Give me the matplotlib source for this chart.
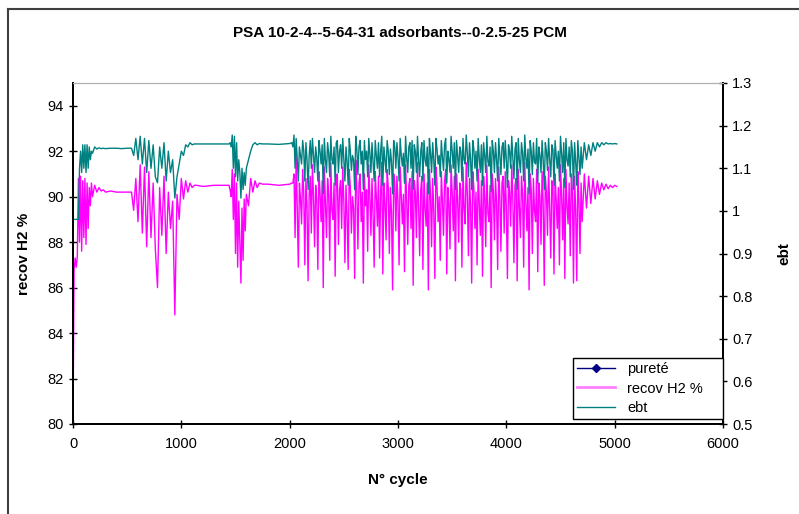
import matplotlib
matplotlib.use('Agg')
import matplotlib.pyplot as plt
from matplotlib.ticker import FuncFormatter
from matplotlib.lines import Line2D

plt.rcParams['font.family'] = ['Liberation Sans', 'DejaVu Sans']

# start-up and the two early disturbances (cycle, recov H2 %, ebt)
cycles_start = [0, 10, 20, 30, 40, 50, 60, 70, 80, 90, 100, 110, 120, 130, 140, 150, 160, 170, 180,
                200, 220, 240, 260, 280, 300, 350, 400, 450, 500, 530,
                540, 560, 580, 600, 620, 640, 660, 680, 700, 720, 740, 760, 780, 800, 820, 840,
                860, 880, 900, 920, 940, 960, 980, 1000, 1020, 1040, 1060, 1080, 1100, 1120,
                1140, 1200, 1300, 1400,
                1440, 1450, 1460, 1470, 1480, 1490, 1500, 1510, 1520, 1530, 1540, 1550, 1560,
                1570, 1580, 1590, 1600, 1620, 1640, 1660, 1680, 1700, 1720, 1750,
                1800, 1900, 2000, 2020]
recov_start = [80.0, 86.8, 87.3, 86.9, 87.4, 90.8, 88.0, 90.9, 87.6, 90.7, 88.2, 90.8, 87.9, 90.6, 88.6, 90.4, 89.6, 90.6, 90.0,
               90.5, 90.2, 90.4, 90.25, 90.3, 90.2, 90.25, 90.2, 90.2, 90.2, 90.2,
               90.2, 89.4, 90.8, 88.9, 91.4, 88.4, 91.3, 87.8, 91.1, 88.2, 90.6, 87.7, 86.0, 90.4, 88.3, 90.9,
               87.5, 90.2, 88.6, 89.8, 84.8, 90.1, 89.0, 90.8, 89.9, 90.7, 90.2, 90.6, 90.4, 90.5,
               90.5, 90.45, 90.5, 90.5,
               90.5, 90.3, 90.0, 91.2, 89.0, 91.0, 87.5, 90.6, 86.9, 89.8, 88.0, 86.2, 89.5,
               87.2, 89.9, 88.5, 90.1, 89.6, 90.8, 90.2, 90.7, 90.4, 90.6, 90.55,
               90.55, 90.5, 90.55, 90.6]
ebt_start = [0.98, 0.98, 0.98, 0.98, 0.98, 0.98, 1.10, 1.14, 1.09, 1.155, 1.10, 1.155, 1.09, 1.155, 1.10, 1.15, 1.12, 1.14, 1.135,
             1.15, 1.145, 1.148, 1.146, 1.147, 1.146, 1.147, 1.147, 1.146, 1.147, 1.147,
             1.147, 1.13, 1.17, 1.12, 1.175, 1.11, 1.17, 1.09, 1.165, 1.10, 1.155, 1.08, 1.066, 1.15, 1.10, 1.16,
             1.07, 1.14, 1.09, 1.12, 1.03, 1.08, 1.11, 1.14, 1.13, 1.155, 1.15, 1.16, 1.155, 1.157,
             1.157, 1.157, 1.157, 1.157,
             1.157, 1.16, 1.15, 1.178, 1.10, 1.175, 1.08, 1.16, 1.07, 1.12, 1.09, 1.03, 1.10,
             1.05, 1.09, 1.06, 1.10, 1.12, 1.14, 1.155, 1.16, 1.155, 1.158, 1.157,
             1.157, 1.156, 1.158, 1.16]

# unstable stretch, one value every 10 cycles from 2030 to 4700
cycles_mid = list(range(2030, 4701, 10))
recov_mid = [90.6, 91.0, 88.2, 91.8, 89.5, 86.9, 90.6, 89.9, 88.8, 91.2,
             90.2, 87.0, 90.8, 89.6, 86.3, 90.1, 90.9, 88.4, 91.4, 90.0,
             87.8, 90.5, 89.9, 86.8, 91.1, 90.2, 88.9, 90.7, 86.0, 91.3,
             89.7, 88.2, 90.8, 90.1, 87.2, 91.5, 89.4, 89.0, 90.6, 86.5,
             90.9, 91.0, 87.9, 90.3, 90.7, 88.6, 91.3, 89.8, 87.1, 90.5,
             89.2, 86.8, 91.2, 90.4, 88.4, 90.0, 89.5, 86.4, 91.6, 90.3,
             87.7, 90.6, 91.0, 88.9, 90.2, 86.2, 91.0, 89.6, 90.3, 87.6,
             91.4, 90.1, 88.3, 90.8, 89.2, 86.9, 91.1, 90.0, 88.7, 90.9,
             87.3, 90.2, 91.5, 86.6, 90.6, 89.7, 88.1, 91.2, 90.4, 87.5,
             90.4, 89.3, 85.9, 91.0, 90.6, 88.5, 90.9, 89.8, 87.0, 91.3,
             90.0, 88.8, 90.1, 86.7, 91.4, 89.9, 87.9, 90.5, 90.8, 88.6,
             91.1, 86.1, 90.7, 90.2, 88.2, 91.5, 89.6, 87.4, 90.3, 90.9,
             86.8, 91.0, 89.5, 88.7, 90.6, 85.9, 91.2, 90.1, 87.8, 90.8,
             89.4, 86.4, 91.3, 90.5, 88.9, 90.0, 87.2, 91.1, 89.8, 88.3,
             90.7, 91.2, 86.6, 90.4, 89.7, 87.7, 91.4, 90.2, 88.5, 90.9,
             86.3, 91.0, 89.9, 88.0, 90.6, 90.3, 86.9, 91.3, 89.5, 88.8,
             91.5, 90.1, 87.4, 90.8, 89.6, 86.2, 91.1, 90.4, 88.6, 90.2,
             87.0, 91.2, 89.8, 88.3, 90.7, 86.5, 90.9, 90.0, 87.8, 91.4,
             89.3, 88.9, 90.5, 86.0, 91.0, 90.3, 88.1, 90.8, 89.7, 86.8,
             91.3, 90.0, 87.6, 90.6, 90.9, 88.4, 91.1, 89.5, 86.4, 90.7,
             90.2, 88.7, 91.4, 89.9, 87.1, 90.5, 90.8, 86.3, 91.2, 89.6,
             88.2, 90.9, 90.1, 86.9, 91.5, 89.8, 88.5, 90.4, 85.9, 91.0,
             90.3, 87.5, 90.8, 89.4, 88.9, 91.2, 86.7, 90.6, 90.0, 87.9,
             91.1, 89.7, 86.1, 90.9, 90.2, 88.3, 91.3, 89.5, 87.3, 90.7,
             90.5, 86.6, 91.0, 89.9, 88.6, 90.4, 87.0, 91.4, 90.1, 88.1,
             90.8, 86.4, 91.2, 89.6, 88.8, 90.6, 87.4, 91.0, 90.2, 86.2,
             90.9, 89.4, 86.3, 91.1, 89.8, 87.5, 90.6, 88.9]
ebt_mid = [1.15, 1.178, 1.10, 1.17, 1.12, 1.07, 1.15, 1.13, 1.11, 1.165,
           1.14, 1.07, 1.16, 1.12, 1.05, 1.13, 1.165, 1.10, 1.17, 1.13,
           1.09, 1.15, 1.125, 1.07, 1.165, 1.14, 1.11, 1.155, 1.04, 1.17,
           1.12, 1.09, 1.16, 1.135, 1.08, 1.175, 1.12, 1.11, 1.15, 1.06,
           1.16, 1.165, 1.09, 1.14, 1.155, 1.10, 1.17, 1.12, 1.07, 1.15,
           1.115, 1.06, 1.17, 1.14, 1.095, 1.13, 1.12, 1.05, 1.175, 1.145,
           1.085, 1.15, 1.165, 1.11, 1.14, 1.05, 1.165, 1.12, 1.14, 1.08,
           1.17, 1.135, 1.09, 1.16, 1.115, 1.07, 1.165, 1.13, 1.10, 1.16,
           1.08, 1.14, 1.175, 1.06, 1.15, 1.12, 1.09, 1.165, 1.14, 1.085,
           1.145, 1.115, 1.04, 1.165, 1.15, 1.10, 1.16, 1.125, 1.07, 1.17,
           1.13, 1.105, 1.135, 1.065, 1.175, 1.125, 1.09, 1.15, 1.16, 1.10,
           1.165, 1.05, 1.155, 1.14, 1.09, 1.175, 1.12, 1.08, 1.14, 1.16,
           1.07, 1.165, 1.12, 1.105, 1.15, 1.04, 1.17, 1.135, 1.09, 1.16,
           1.12, 1.06, 1.17, 1.145, 1.11, 1.13, 1.08, 1.165, 1.125, 1.095,
           1.155, 1.17, 1.065, 1.14, 1.12, 1.09, 1.175, 1.14, 1.10, 1.16,
           1.05, 1.165, 1.13, 1.09, 1.15, 1.14, 1.07, 1.17, 1.12, 1.11,
           1.178, 1.135, 1.08, 1.16, 1.12, 1.05, 1.165, 1.145, 1.10, 1.14,
           1.07, 1.17, 1.125, 1.09, 1.155, 1.06, 1.16, 1.13, 1.09, 1.175,
           1.115, 1.105, 1.15, 1.045, 1.165, 1.14, 1.09, 1.16, 1.12, 1.07,
           1.17, 1.13, 1.085, 1.15, 1.16, 1.10, 1.165, 1.12, 1.055, 1.155,
           1.14, 1.10, 1.175, 1.125, 1.075, 1.145, 1.16, 1.05, 1.17, 1.12,
           1.09, 1.16, 1.135, 1.07, 1.178, 1.125, 1.10, 1.145, 1.04, 1.165,
           1.14, 1.085, 1.16, 1.115, 1.11, 1.17, 1.065, 1.15, 1.13, 1.09,
           1.165, 1.12, 1.05, 1.16, 1.14, 1.095, 1.17, 1.12, 1.08, 1.155,
           1.145, 1.06, 1.165, 1.13, 1.10, 1.14, 1.07, 1.175, 1.135, 1.09,
           1.16, 1.055, 1.17, 1.12, 1.105, 1.15, 1.08, 1.165, 1.14, 1.05,
           1.16, 1.115, 1.06, 1.165, 1.125, 1.085, 1.15, 1.10]

# settling at the end of the run
cycles_end = [4720, 4740, 4760, 4780, 4800, 4820, 4840, 4860, 4880, 4900, 4920, 4940, 4960, 4980, 5000, 5020]
recov_end = [91.0, 89.5, 90.9, 89.7, 90.8, 89.9, 90.7, 90.1, 90.6, 90.3, 90.55, 90.35, 90.5, 90.4, 90.5, 90.45]
ebt_end = [1.16, 1.12, 1.155, 1.13, 1.16, 1.14, 1.16, 1.15, 1.16, 1.155, 1.16, 1.157, 1.158, 1.157, 1.158, 1.157]

# purity series has no point inside the plotted range
purete_x = []
purete = []

cycles = cycles_start + cycles_mid + cycles_end
recov = recov_start + recov_mid + recov_end
ebt = ebt_start + ebt_mid + ebt_end

fig = plt.figure(figsize=(7.99, 5.14), dpi=100)
ax = fig.add_axes([73/799, 1-424/514, 650/799, 341/514])
ax2 = ax.twinx()

ax.plot(purete_x, purete, color='#000080', marker='D', markersize=4, lw=1)
ax.plot(cycles, recov, color='#FF00FF', lw=1)
ax2.plot(cycles, ebt, color='#008080', lw=1)

ax.set_xlim(0, 6000)
ax.set_ylim(80, 95)
ax.set_xticks(range(0, 6001, 1000))
ax.set_yticks(range(80, 95, 2))
ax2.set_ylim(0.5, 1.3)
ax2.set_yticks([0.5, 0.6, 0.7, 0.8, 0.9, 1.0, 1.1, 1.2, 1.3])
ax2.yaxis.set_major_formatter(FuncFormatter(lambda v, p: '%g' % round(v, 1)))

for a in (ax, ax2):
    a.tick_params(direction='inout', length=6, width=1, labelsize=10.5, colors='black')
    a.spines['top'].set_color('#b0b0b0')
    for s in ('left', 'right', 'bottom'):
        a.spines[s].set_linewidth(1.3)
ax.tick_params(axis='x', pad=6)

ax.set_xlabel('N° cycle', fontsize=11, fontweight='bold', labelpad=16)
ax.set_ylabel('recov H2 %', fontsize=11, fontweight='bold', labelpad=12)
ax2.set_ylabel('ebt', fontsize=11, fontweight='bold', labelpad=18)
fig.text(0.5, 1-33/514, 'PSA 10-2-4--5-64-31 adsorbants--0-2.5-25 PCM',
         ha='center', va='center', fontsize=11, fontweight='bold')

handles = [Line2D([], [], color='#000080', marker='D', markersize=4, lw=1),
           Line2D([], [], color='#FF80FF', lw=2),
           Line2D([], [], color='#008080', lw=1)]
leg = ax2.legend(handles, ['pureté', 'recov H2 %', 'ebt'], loc='lower left',
                 bbox_to_anchor=(500/650, 5/341, 150/650, 74/341), mode='expand',
                 fancybox=False, framealpha=1, edgecolor='black', fontsize=10.5,
                 borderaxespad=0, handlelength=2.6, labelspacing=0.35, borderpad=0.3)
leg.get_frame().set_linewidth(1)

# outer chart border (top and left visible in the screenshot)
fig.add_artist(Line2D([8/799, 1], [1-9/514, 1-9/514], color='#404040', lw=1.5))
fig.add_artist(Line2D([8/799, 8/799], [0, 1-9/514], color='#404040', lw=1.5))

fig.savefig('out.png', dpi=100)
